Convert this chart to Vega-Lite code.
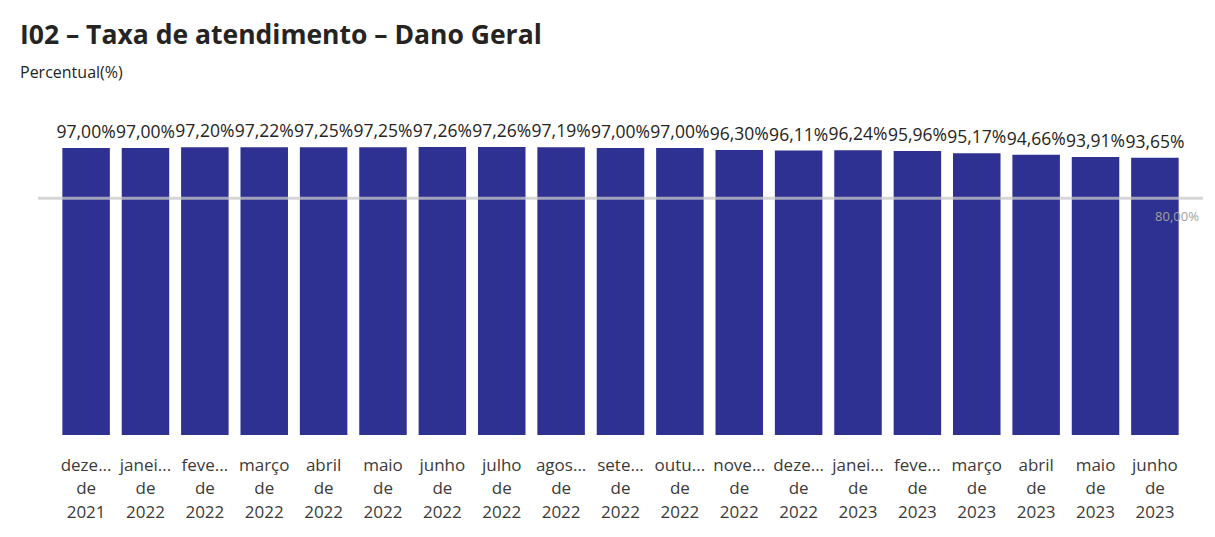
{
  "$schema": "https://vega.github.io/schema/vega-lite/v6.json",
  "width": 1165,
  "height": 296,
  "autosize": {"type": "none"},
  "padding": {"left": 38, "top": 139, "right": 12, "bottom": 102},
  "background": "white",
  "title": {
    "text": "I02 – Taxa de atendimento – Dano Geral",
    "subtitle": "Percentual(%)",
    "anchor": "start",
    "frame": "group",
    "dx": -18,
    "offset": 42,
    "fontSize": 26.5,
    "fontWeight": "bold",
    "color": "#252423",
    "subtitleFontSize": 16,
    "subtitleColor": "#252423",
    "subtitlePadding": 16
  },
  "config": {
    "font": "Segoe UI, Open Sans",
    "view": {"stroke": null},
    "locale": {
      "number": {"decimal": ",", "thousands": ".", "grouping": [3], "currency": ["R$", ""]}
    }
  },
  "data": {
    "values": [
      {"mes": "dezembro de 2021", "taxa": 0.97},
      {"mes": "janeiro de 2022", "taxa": 0.97},
      {"mes": "fevereiro de 2022", "taxa": 0.972},
      {"mes": "março de 2022", "taxa": 0.9722},
      {"mes": "abril de 2022", "taxa": 0.9725},
      {"mes": "maio de 2022", "taxa": 0.9725},
      {"mes": "junho de 2022", "taxa": 0.9726},
      {"mes": "julho de 2022", "taxa": 0.9726},
      {"mes": "agosto de 2022", "taxa": 0.9719},
      {"mes": "setembro de 2022", "taxa": 0.97},
      {"mes": "outubro de 2022", "taxa": 0.97},
      {"mes": "novembro de 2022", "taxa": 0.963},
      {"mes": "dezembro de 2022", "taxa": 0.9611},
      {"mes": "janeiro de 2023", "taxa": 0.9624},
      {"mes": "fevereiro de 2023", "taxa": 0.9596},
      {"mes": "março de 2023", "taxa": 0.9517},
      {"mes": "abril de 2023", "taxa": 0.9466},
      {"mes": "maio de 2023", "taxa": 0.9391},
      {"mes": "junho de 2023", "taxa": 0.9365}
    ]
  },
  "encoding": {
    "x": {
      "field": "mes",
      "type": "nominal",
      "sort": null,
      "scale": {"paddingInner": 0.2, "paddingOuter": 0.41},
      "axis": {
        "title": null,
        "domain": false,
        "ticks": false,
        "labelAngle": 0,
        "labelFontSize": 17,
        "labelColor": "#3b3a39",
        "labelPadding": 30,
        "labelLineHeight": 23.5,
        "labelBaseline": "middle",
        "labelLimit": 0,
        "labelExpr": "[{'dezembro':'deze...','janeiro':'janei...','fevereiro':'feve...','agosto':'agos...','setembro':'sete...','outubro':'outu...','novembro':'nove...'}[split(datum.label,' ')[0]] || split(datum.label,' ')[0], 'de', split(datum.label,' ')[2]]"
      }
    },
    "y": {
      "field": "taxa",
      "type": "quantitative",
      "scale": {"domain": [0, 1], "nice": false},
      "axis": null
    }
  },
  "layer": [
    {"mark": {"type": "bar", "color": "#2E3192"}},
    {
      "mark": {"type": "text", "baseline": "middle", "dy": -15, "fontSize": 17.5, "color": "#252423"},
      "encoding": {"text": {"field": "taxa", "type": "quantitative", "format": ".2%"}}
    },
    {
      "data": {"values": [{"meta": 0.8}]},
      "mark": {"type": "rule", "color": "#c8c8c8", "strokeWidth": 3, "opacity": 0.75},
      "encoding": {"x": null, "y": {"field": "meta", "type": "quantitative"}}
    },
    {
      "transform": [{"filter": "datum.mes == 'junho de 2023'"}],
      "mark": {"type": "text", "align": "right", "baseline": "middle", "dx": 44, "dy": 19, "fontSize": 13, "color": "#a19f9d"},
      "encoding": {"y": {"datum": 0.8}, "text": {"value": "80,00%"}}
    }
  ]
}
